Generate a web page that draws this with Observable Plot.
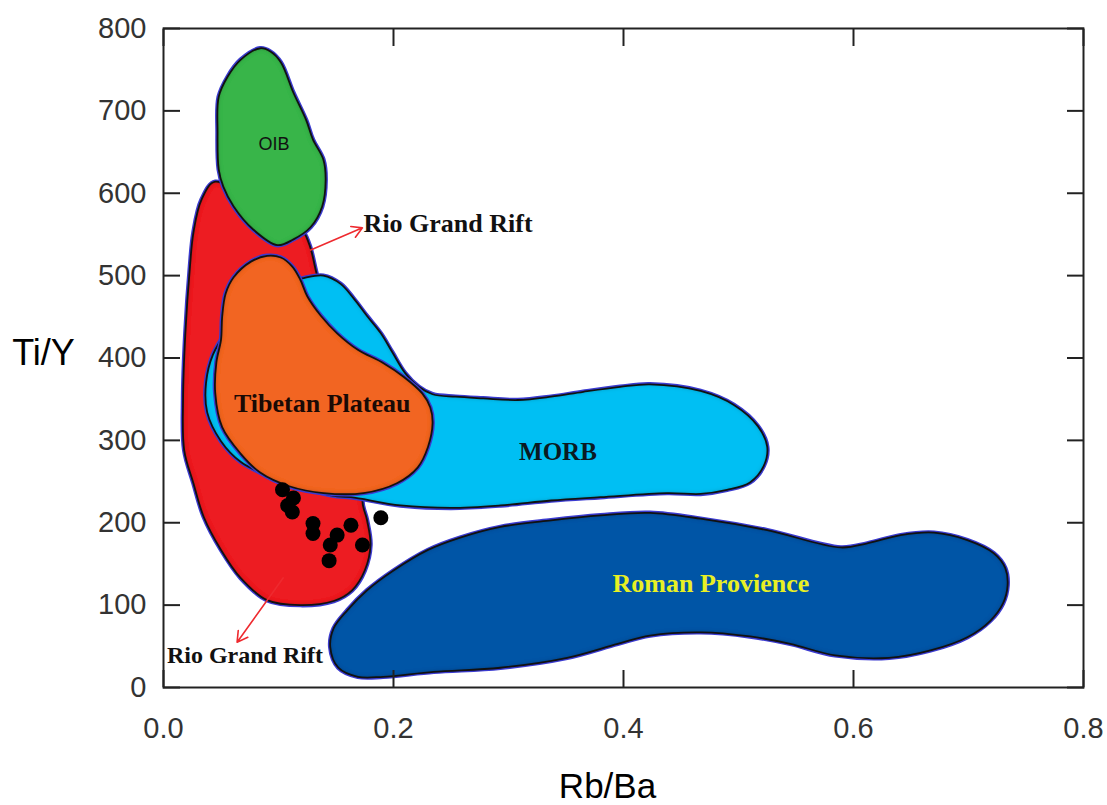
<!DOCTYPE html>
<html>
<head>
<meta charset="utf-8">
<script src="https://cdn.jsdelivr.net/npm/d3@7"></script>
<script src="https://cdn.jsdelivr.net/npm/@observablehq/plot@0.6"></script>
<style>
  html, body { margin: 0; padding: 0; background: #fff; }
  #chart { width: 1107px; height: 805px; }
</style>
</head>
<body>
<div id="chart"></div>
<script>
// ---- Field outlines (Rb/Ba, Ti/Y) ----
const oibX = [0.084,0.067,0.056,0.048,0.047,0.048,0.052,0.061,0.078,0.099,0.113,0.128,0.138,0.141,0.139,0.130,0.124,0.113,0.102,0.093];
const oibY = [776,762,742,717,674,629,608,584,556,537,544,559,584,616,641,665,689,722,759,772];

const riftX = [0.045,0.084,0.119,0.127,0.134,0.147,0.167,0.182,0.180,0.173,0.177,0.180,0.175,0.164,0.148,0.119,0.090,0.067,0.050,0.035,0.026,0.018,0.017,0.019,0.023,0.026,0.033];
const riftY = [614,577,558,537,498,446,373,300,258,227,203,173,142,118,105,100,106,133,167,207,248,288,349,430,511,552,592];

const morbX = [0.102,0.122,0.139,0.154,0.165,0.177,0.189,0.199,0.210,0.222,0.234,0.254,0.278,0.308,0.337,0.365,0.397,0.423,0.467,0.496,0.517,0.525,0.522,0.510,0.490,0.467,0.438,0.380,0.337,0.293,0.250,0.206,0.163,0.151,0.119,0.089,0.067,0.050,0.038,0.037,0.043,0.057,0.077];
const morbY = [489,497,500,490,473,451,430,407,382,365,356,353,351,349,353,359,365,368,360,343,317,292,269,249,240,235,236,231,227,221,218,221,231,232,243,258,274,299,334,370,404,436,467];

const tibetX = [0.090,0.076,0.061,0.054,0.051,0.050,0.046,0.045,0.051,0.067,0.084,0.110,0.139,0.174,0.203,0.221,0.230,0.234,0.232,0.225,0.209,0.191,0.169,0.151,0.137,0.125,0.119,0.112,0.102];
const tibetY = [524,517,498,478,450,422,395,357,316,284,261,244,236,236,248,267,292,321,340,357,377,394,410,430,451,475,495,511,522];

const romanX = [0.145,0.148,0.160,0.177,0.200,0.230,0.258,0.293,0.337,0.380,0.423,0.467,0.525,0.589,0.612,0.641,0.670,0.699,0.722,0.732,0.734,0.730,0.719,0.699,0.667,0.631,0.584,0.545,0.510,0.467,0.423,0.395,0.351,0.293,0.235,0.191,0.169,0.152];
const romanY = [49,72,94,118,142,167,182,195,203,209,212,205,191,170,175,185,188,179,163,145,124,102,81,61,45,36,39,53,62,67,63,53,36,24,19,13,13,24];

// ---- Samples ----
const sampleX = [0.1035,0.113,0.108,0.112,0.130,0.130,0.163,0.151,0.145,0.173,0.144,0.189];
const sampleY = [240,230,221,213,199,187,197,185,173,173,154,206];

// ---- Arrows (Rio Grand Rift pointers) ----
const arrowX1 = [0.128, 0.104];
const arrowY1 = [531, 133];
const arrowX2 = [0.173, 0.064];
const arrowY2 = [558, 55];

// ---- Field labels ----
const labelText = ["OIB", "Rio Grand Rift", "Rio Grand Rift", "Tibetan Plateau", "MORB", "Roman Provience"];
const labelX = [0.096, 0.174, 0.003, 0.138, 0.343, 0.476];
const labelY = [659, 563, 38.5, 344, 286, 126];

// ---- Ticks ----
const xTicks = [0.0, 0.2, 0.4, 0.6, 0.8];
const yTicks = [0, 100, 200, 300, 400, 500, 600, 700, 800];

const fieldNames = ["rift", "morb", "tibet", "oib", "roman"];
const fieldColors = ["#ed1c24", "#00bff3", "#f26522", "#39b54a", "#0054a6"];
const fieldXs = [riftX, morbX, tibetX, oibX, romanX];
const fieldYs = [riftY, morbY, tibetY, oibY, romanY];

const fieldMarks = fieldNames.flatMap((name, k) => {
  const pts = fieldXs[k].map((x, i) => ({x, y: fieldYs[k][i]}));
  return [
    Plot.line(pts, {x: "x", y: "y", curve: "catmull-rom-closed", stroke: "#3b3bd0", strokeWidth: 4.5}),
    Plot.line(pts, {x: "x", y: "y", curve: "catmull-rom-closed", stroke: fieldColors[k], fill: fieldColors[k], strokeWidth: 0.5}),
    Plot.line(pts, {x: "x", y: "y", curve: "catmull-rom-closed", stroke: "#111", strokeWidth: 1.8})
  ];
});

const samples = sampleX.map((x, i) => ({x, y: sampleY[i]}));
const arrows = arrowX1.map((d, i) => ({x1: arrowX1[i], y1: arrowY1[i], x2: arrowX2[i], y2: arrowY2[i]}));
const labels = labelText.map((t, i) => ({t, x: labelX[i], y: labelY[i]}));

const serif = "'Liberation Serif', 'Times New Roman', serif";

const chart = Plot.plot({
  width: 1107,
  height: 805,
  marginLeft: 163,
  marginRight: 24,
  marginTop: 28,
  marginBottom: 118,
  x: {domain: [0, 0.8], label: null},
  y: {domain: [0, 800], label: null},
  style: {fontFamily: "'Liberation Sans', Arial, sans-serif", fontSize: "29px", color: "#333", background: "#fff", overflow: "visible"},
  marks: [
    ...fieldMarks,
    Plot.dot(samples, {x: "x", y: "y", r: 7.5, fill: "#000", stroke: "none"}),
    Plot.arrow(arrows, {x1: "x1", y1: "y1", x2: "x2", y2: "y2", stroke: "#ee2a2f", strokeWidth: 1.6, headLength: 11}),
    Plot.text([labels[0]], {x: "x", y: "y", text: "t", fontFamily: "'Liberation Sans', Arial, sans-serif", fontSize: 18, fill: "#111"}),
    Plot.text([labels[1]], {x: "x", y: "y", text: "t", fontFamily: serif, fontWeight: "bold", fontSize: 26, fill: "#111", textAnchor: "start"}),
    Plot.text([labels[2]], {x: "x", y: "y", text: "t", fontFamily: serif, fontWeight: "bold", fontSize: 24, fill: "#111", textAnchor: "start"}),
    Plot.text([labels[3]], {x: "x", y: "y", text: "t", fontFamily: serif, fontWeight: "bold", fontSize: 26, fill: "#1a0a05"}),
    Plot.text([labels[4]], {x: "x", y: "y", text: "t", fontFamily: serif, fontWeight: "bold", fontSize: 25, fill: "#0a1a22"}),
    Plot.text([labels[5]], {x: "x", y: "y", text: "t", fontFamily: serif, fontWeight: "bold", fontSize: 26, fill: "#e8f024"}),
    Plot.frame({stroke: "#222", strokeWidth: 2}),
    Plot.axisX({anchor: "bottom", ticks: xTicks, tickSize: 0, tickPadding: 30, tickFormat: d3.format(".1f"), label: null, fill: "#333"}),
    Plot.axisX({anchor: "bottom", ticks: xTicks, tickSize: -17, tickFormat: () => "", label: null, stroke: "#222", strokeWidth: 2}),
    Plot.axisX({anchor: "top", ticks: xTicks, tickSize: -17, tickFormat: () => "", label: null, stroke: "#222", strokeWidth: 2}),
    Plot.axisY({anchor: "left", ticks: yTicks, tickSize: 0, tickPadding: 17, tickFormat: d3.format("d"), label: null, fill: "#333"}),
    Plot.axisY({anchor: "left", ticks: yTicks, tickSize: -17, tickFormat: () => "", label: null, stroke: "#222", strokeWidth: 2}),
    Plot.axisY({anchor: "right", ticks: yTicks, tickSize: -17, tickFormat: () => "", label: null, stroke: "#222", strokeWidth: 2}),
    Plot.text(["Ti/Y"], {frameAnchor: "left", text: d => d, dx: -120, dy: -5, fontSize: 36, fill: "#000", textAnchor: "middle", lineAnchor: "middle"}),
    Plot.text(["Rb/Ba"], {frameAnchor: "bottom", text: d => d, dx: -16, dy: 99, fontSize: 35, fill: "#000", textAnchor: "middle", lineAnchor: "middle"})
  ]
});

// subtle inner shading along the field edges (styling only)
try {
  const svg = d3.select(chart);
  const defs = svg.append("defs");
  const flt = defs.append("filter").attr("id", "innerShade")
    .attr("x", "-5%").attr("y", "-5%").attr("width", "110%").attr("height", "110%");
  flt.append("feGaussianBlur").attr("in", "SourceAlpha").attr("stdDeviation", 2.2).attr("result", "blur");
  flt.append("feComposite").attr("in", "SourceAlpha").attr("in2", "blur")
    .attr("operator", "arithmetic").attr("k1", 0).attr("k2", 1).attr("k3", -1).attr("k4", 0).attr("result", "edge");
  flt.append("feFlood").attr("flood-color", "#000").attr("flood-opacity", 0.7).attr("result", "col");
  flt.append("feComposite").attr("in", "col").attr("in2", "edge").attr("operator", "in").attr("result", "shade");
  const mg = flt.append("feMerge");
  mg.append("feMergeNode").attr("in", "SourceGraphic");
  mg.append("feMergeNode").attr("in", "shade");
  const colorSet = new Set(fieldColors);
  svg.selectAll("g").filter(function () {
    return colorSet.has(this.getAttribute("fill"));
  }).attr("filter", "url(#innerShade)");
} catch (e) { console.error(e); }

document.getElementById("chart").appendChild(chart);
</script>
</body>
</html>
